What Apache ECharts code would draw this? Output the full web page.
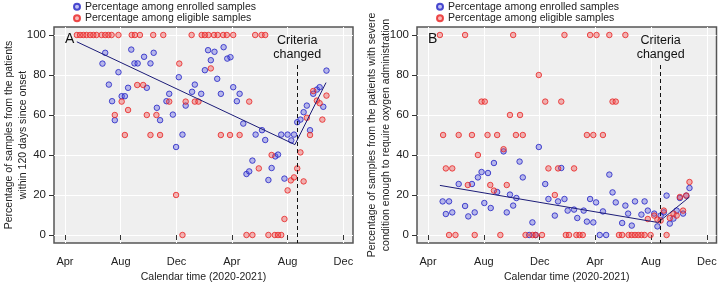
<!DOCTYPE html>
<html>
<head>
<meta charset="utf-8">
<script src="https://cdn.jsdelivr.net/npm/echarts@6/dist/echarts.min.js"></script>
<style>
  html, body { margin: 0; padding: 0; background: #fff; }
  #chart { width: 719px; height: 283px; }
</style>
</head>
<body>
<div id="chart"></div>
<script>
// x values are days counted from 2020-01-01 (Apr 1 2020 = 91)
var tickDays = [91, 213, 335, 456, 578, 700];
var tickLabels = ["Apr", "Aug", "Dec", "Apr", "Aug", "Dec"];
var yTicks = [0, 20, 40, 60, 80, 100];
var criteriaDay = 599;

// panel A: within 120 days since onset
var enrolledA = [
  [173, 85.7], [179, 91.1], [187, 75.2], [194, 66.9], [200, 57.4], [208, 81.4], [215, 69.4],
  [222, 69.4], [229, 73.6], [236, 92.7], [243, 85.8], [250, 85.8], [264, 89.1], [270, 73.6],
  [278, 85.8], [285, 91.1], [292, 63.6], [299, 57.4], [313, 66.9], [319, 70.6], [327, 60.2],
  [334, 44.0], [340, 78.9], [348, 50.2], [355, 64.7], [369, 71.6], [375, 75.2], [389, 70.6],
  [397, 82.4], [404, 92.4], [410, 87.4], [418, 91.6], [424, 78.1], [432, 70.6], [438, 93.9],
  [446, 88.2], [453, 88.9], [459, 73.9], [467, 66.9], [473, 70.6], [481, 55.7], [488, 30.5],
  [494, 31.8], [501, 37.2], [508, 50.2], [522, 52.4], [529, 47.5], [536, 27.5], [543, 33.5],
  [551, 39.3], [557, 40.2], [564, 50.2], [571, 28.2], [578, 50.2], [586, 47.3], [592, 50.2],
  [599, 56.4], [606, 57.7], [613, 61.4], [620, 64.7], [627, 52.4], [634, 70.6], [642, 72.7],
  [648, 73.9], [656, 64.1], [663, 82.2]
];
var eligibleA = [
  [117, 100], [124, 100], [131, 100], [138, 100], [146, 100], [153, 100], [160, 100],
  [171, 100], [179, 100], [186, 100], [193, 100], [208, 100], [237, 100], [244, 100],
  [255, 100], [284, 100], [306, 100], [368, 100], [390, 100], [397, 100], [405, 100],
  [417, 100], [425, 100], [437, 100], [445, 100], [459, 100], [507, 100], [521, 100], [529, 100],
  [341, 85.7], [410, 83.3], [215, 66.7], [229, 62.5], [249, 75], [262, 75], [200, 60],
  [270, 60], [291, 60], [222, 50], [278, 50], [299, 50], [319, 66.7], [355, 66.7],
  [375, 66.7], [383, 66.7], [494, 66.7], [432, 50], [452, 50], [473, 50], [334, 20],
  [348, 0], [488, 0], [501, 0], [515, 33.3], [536, 0], [543, 40], [550, 0], [557, 0],
  [564, 0], [571, 8], [578, 22.3], [585, 27.3], [592, 28.8], [599, 33.3], [606, 41.3],
  [613, 26.8], [620, 58.6], [627, 50], [634, 72], [642, 67.2], [648, 65.9], [654, 57.7],
  [663, 69.7]
];
var trendA1 = [[117, 96.6], [594, 45.2]];
var trendA2 = [[594, 45.2], [662, 76.2]];

// panel B: severe condition requiring oxygen
var enrolledB = [
  [123, 16.8], [130, 10.5], [137, 16.8], [144, 11.3], [158, 25.5], [172, 14.5], [179, 9.3],
  [187, 25.5], [193, 11.3], [200, 28.8], [208, 31.5], [214, 16], [222, 31], [228, 13.5],
  [235, 36], [242, 21.5], [256, 41.8], [263, 11.3], [270, 20.2], [277, 14.7], [284, 18.5],
  [291, 36.7], [298, 28.8], [312, 0], [319, 6.3], [326, 0], [333, 44], [347, 25.5],
  [354, 18], [368, 9.7], [375, 16.8], [382, 33.5], [389, 18], [396, 12.2], [410, 12.7],
  [417, 8.5], [431, 12.2], [438, 6.7], [445, 18], [452, 6.3], [458, 16.3], [466, 0],
  [473, 11.8], [480, 0], [487, 30.2], [494, 21.3], [501, 16.3], [515, 6], [522, 14.7],
  [528, 10.7], [536, 4.7], [543, 16.8], [557, 10.2], [564, 16.8], [571, 12.2], [585, 10.7],
  [592, 4.3], [599, 9.7], [606, 11.3], [612, 19.7], [619, 5.7], [627, 8.2], [634, 12.2],
  [641, 18.5], [648, 10.7], [655, 19.7], [662, 23.5]
];
var eligibleB = [
  [117, 100], [172, 100], [277, 100], [389, 100], [445, 100], [459, 100], [487, 100], [522, 100],
  [333, 80],
  [208, 66.7], [215, 66.7], [347, 66.7], [382, 66.7], [494, 66.7], [501, 66.7],
  [270, 60], [292, 60],
  [124, 50], [158, 50], [187, 50], [221, 50], [242, 50], [283, 50], [298, 50], [438, 50],
  [452, 50], [473, 50],
  [200, 40], [256, 42.9],
  [130, 33.3], [144, 33.3], [354, 33.3], [375, 33.3], [410, 33.3],
  [178, 25], [227, 25], [263, 25], [235, 22.2], [368, 20],
  [137, 0], [151, 0], [193, 0], [249, 0], [304, 0], [319, 0], [326, 0], [340, 0], [392, 0],
  [399, 0], [415, 0], [422, 0], [429, 0], [508, 0], [515, 0], [529, 0], [536, 0], [543, 0],
  [550, 0], [557, 0], [564, 0], [577, 0], [612, 0],
  [571, 8], [585, 9.7], [592, 7.7], [599, 7.2], [606, 12.2], [619, 8.5], [627, 10.7],
  [634, 9.7], [641, 19], [648, 12.2], [655, 19.7], [662, 26.5]
];
var trendB1 = [[117, 24.8], [592, 6.3]];
var trendB2 = [[592, 6.0], [662, 19]];

var FONT = "Liberation Sans, Arial, sans-serif";
var nameEnrolled = "Percentage among enrolled samples";
var nameEligible = "Percentage among eligible samples";

function xAxisFor(i) {
  return {
    type: "value", gridIndex: i, min: 67, max: 721,
    name: "Calendar time (2020-2021)", nameLocation: "middle", nameGap: 27,
    nameTextStyle: { fontFamily: FONT, fontSize: 10.5, color: "#222" },
    axisLine: { show: false },
    axisTick: { show: true, length: 5, customValues: tickDays, lineStyle: { color: "#333" } },
    axisLabel: {
      customValues: tickDays, margin: 13, fontFamily: FONT, fontSize: 11, color: "#222",
      formatter: function (v) { return tickLabels[tickDays.indexOf(v)]; }
    },
    splitLine: { show: true, lineStyle: { color: "#fff", width: 1 } }
  };
}
function yAxisFor(i, title, gap) {
  return {
    type: "value", gridIndex: i, min: -4, max: 104,
    name: title, nameLocation: "middle", nameGap: gap, nameMoveOverlap: false,
    nameTextStyle: { fontFamily: FONT, fontSize: 10.5, lineHeight: 13.5, color: "#222" },
    axisLine: { show: false },
    axisTick: { show: true, length: 5, customValues: yTicks, lineStyle: { color: "#333" } },
    axisLabel: { customValues: yTicks, margin: 8, fontFamily: FONT, fontSize: 11.5, color: "#222" },
    splitLine: { show: true, lineStyle: { color: "#fff", width: 1 } }
  };
}
function scatter(i, name, data, stroke, fill, withMark) {
  var s = {
    name: name, type: "scatter", xAxisIndex: i, yAxisIndex: i, data: data,
    symbol: "circle", symbolSize: 5.5,
    itemStyle: { color: fill, borderColor: stroke, borderWidth: 1 },
    silent: true
  };
  if (withMark) {
    s.markLine = {
      silent: true, symbol: ["none", "none"], animation: false,
      lineStyle: { type: [4, 3], color: "#111", width: 1 },
      label: {
        show: true, position: "start", formatter: "Criteria\nchanged", distance: 3,
        fontFamily: FONT, fontSize: 12.5, lineHeight: 14, color: "#111"
      },
      data: [[{ coord: [criteriaDay, 85] }, { coord: [criteriaDay, -4] }]]
    };
  }
  return s;
}
function trend(i, data) {
  return {
    type: "line", xAxisIndex: i, yAxisIndex: i, data: data, symbol: "none", silent: true,
    lineStyle: { color: "#1c1c78", width: 1 }, z: 3
  };
}

var blueStroke = "#2222c4", blueFill = "rgba(80,80,225,0.45)";
var redStroke = "#e82222", redFill = "rgba(240,80,80,0.5)";

var chart = echarts.init(document.getElementById("chart"));
chart.setOption({
  animation: false,
  backgroundColor: "#fff",
  title: [
    { text: "A", left: 60, top: 27, textStyle: { fontFamily: FONT, fontSize: 14, fontWeight: "normal", color: "#111" } },
    { text: "B", left: 423, top: 27, textStyle: { fontFamily: FONT, fontSize: 14, fontWeight: "normal", color: "#111" } }
  ],
  legend: [
    {
      orient: "vertical", left: 68, top: -4, itemGap: 0, itemWidth: 6, itemHeight: 6,
      textStyle: { fontFamily: FONT, fontSize: 10.5, lineHeight: 11.5, color: "#222" },
      data: [nameEnrolled, nameEligible]
    },
    {
      orient: "vertical", left: 431, top: -4, itemGap: 0, itemWidth: 6, itemHeight: 6,
      textStyle: { fontFamily: FONT, fontSize: 10.5, lineHeight: 11.5, color: "#222" },
      data: [nameEnrolled, nameEligible]
    }
  ],
  grid: [
    { left: 54, top: 27, width: 299, height: 216, outerBoundsMode: "none", show: true, backgroundColor: "#efefef", borderColor: "#555", borderWidth: 1.5 },
    { left: 417, top: 27, width: 299.5, height: 216, outerBoundsMode: "none", show: true, backgroundColor: "#efefef", borderColor: "#555", borderWidth: 1.5 }
  ],
  xAxis: [xAxisFor(0), xAxisFor(1)],
  yAxis: [
    yAxisFor(0, "Percentage of samples from the patients\nwithin 120 days since onset", 24.5),
    yAxisFor(1, "Percentage of samples from the patients with severe\ncondition enough to require oxygen administration", 24.5)
  ],
  series: [
    scatter(0, nameEnrolled, enrolledA, blueStroke, blueFill, false),
    scatter(0, nameEligible, eligibleA, redStroke, redFill, true),
    trend(0, trendA1),
    trend(0, trendA2),
    scatter(1, nameEnrolled, enrolledB, blueStroke, blueFill, false),
    scatter(1, nameEligible, eligibleB, redStroke, redFill, true),
    trend(1, trendB1),
    trend(1, trendB2)
  ]
});
</script>
</body>
</html>
